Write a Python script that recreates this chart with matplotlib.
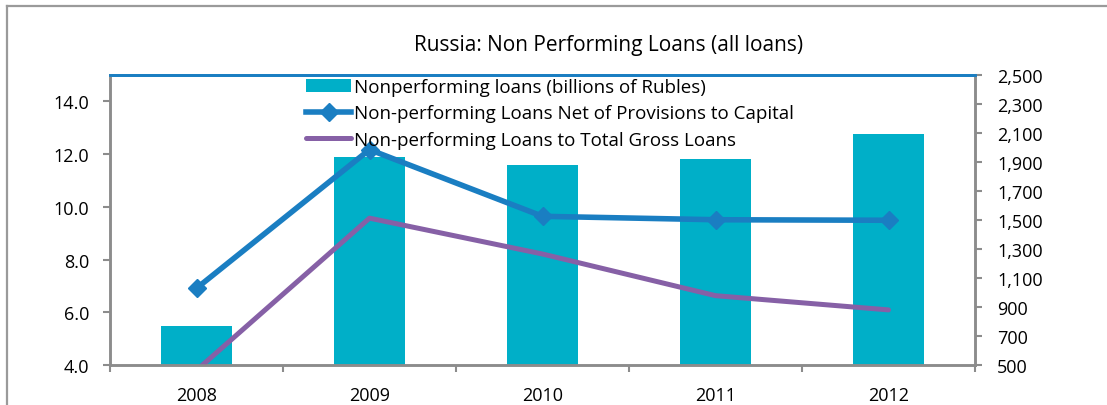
import matplotlib.pyplot as plt
import numpy as np
from matplotlib.lines import Line2D
from matplotlib.ticker import FuncFormatter, FixedLocator

plt.rcParams["font.family"] = ["Open Sans", "DejaVu Sans"]

years = ["2008", "2009", "2010", "2011", "2012"]
npl_rubles_bn = [767, 1932, 1879, 1921, 2091]
npl_net_to_capital = [6.91, 12.17, 9.64, 9.51, 9.49]
npl_to_gross_loans = [3.8, 9.57, 8.21, 6.63, 6.09]

BAR_COLOR = "#00AFC8"
BLUE = "#1A7EC2"
PURPLE = "#8660A6"
AXIS_GRAY = "#8C8C8C"

W, H = 1107, 406
fig = plt.figure(figsize=(W / 100, H / 100), dpi=100)

# outer chart border (runs off right and bottom edges)
fig.add_artist(Line2D([7 / W, 1.0], [1 - 7 / H, 1 - 7 / H], color="#9A9A9A", lw=1.6))
fig.add_artist(Line2D([7 / W, 7 / W], [0.0, 1 - 7 / H], color="#9A9A9A", lw=1.6))

ax = fig.add_axes([110 / W, 40 / H, 865 / W, 290 / H])
ax2 = ax.twinx()
ax.set_zorder(ax2.get_zorder() + 1)
ax.patch.set_visible(False)

x = np.arange(len(years))
bars = ax2.bar(x, npl_rubles_bn, width=0.405, color=BAR_COLOR, zorder=2)
(l1,) = ax.plot(x, npl_net_to_capital, color=BLUE, lw=4.0, marker="D", ms=9,
                mfc=BLUE, mec=BLUE, solid_joinstyle="round")
(l2,) = ax.plot(x, npl_to_gross_loans, color=PURPLE, lw=3.6, solid_capstyle="round",
                solid_joinstyle="round")

ax.set_xlim(-0.5, len(years) - 0.5)
ax.set_ylim(4.0, 15.0)
ax2.set_ylim(500, 2500)
ax.set_yticks(np.arange(4.0, 14.1, 2.0))
ax.yaxis.set_major_formatter(FuncFormatter(lambda v, p: f"{v:.1f}"))
ax2.set_yticks(np.arange(500, 2501, 200))
ax2.yaxis.set_major_formatter(FuncFormatter(lambda v, p: f"{v:,.0f}"))

ax.set_xticks(x)
ax.set_xticklabels(years)
ax.xaxis.set_minor_locator(FixedLocator(np.arange(-0.5, len(years), 1.0)))
ax.tick_params(axis="x", which="major", length=0, pad=15, labelsize=13)
ax.tick_params(axis="x", which="minor", length=5, width=1.5, color=AXIS_GRAY)
ax.tick_params(axis="y", length=5, width=1.5, color=AXIS_GRAY, labelsize=13, pad=10)
ax2.tick_params(axis="y", length=5, width=1.5, color=AXIS_GRAY, labelsize=13, pad=11)

for a in (ax, ax2):
    for side in ("left", "right", "bottom"):
        a.spines[side].set_color(AXIS_GRAY)
        a.spines[side].set_linewidth(1.8)
    a.spines["top"].set_color(BLUE)
    a.spines["top"].set_linewidth(2.0)

fig.text(609 / W, 1 - 45 / H, "Russia: Non Performing Loans (all loans)",
         ha="center", va="center", fontsize=15)

fig.legend([bars, l1, l2],
           ["Nonperforming loans (billions of Rubles)",
            "Non-performing Loans Net of Provisions to Capital",
            "Non-performing Loans to Total Gross Loans"],
           loc="upper left", bbox_to_anchor=(306 / W, 1 - 79 / H),
           frameon=False, fontsize=13.5, handlelength=2.4, handletextpad=0.15,
           labelspacing=0.44, borderpad=0, borderaxespad=0)

fig.savefig("out.png", dpi=100)
